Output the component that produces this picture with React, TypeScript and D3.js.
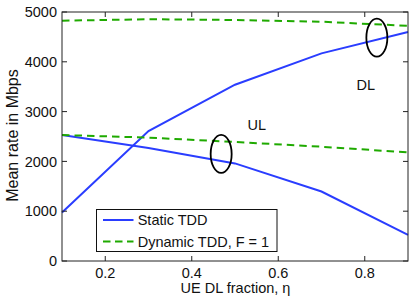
import React from "react";
import * as d3 from "d3";

const eta = [0.1, 0.3, 0.5, 0.7, 0.9];
const staticDL = [975, 2610, 3540, 4170, 4600];
const staticUL = [2530, 2270, 1960, 1395, 525];
const dynamicDL = [4825, 4855, 4840, 4805, 4722];
const dynamicUL = [2530, 2478, 2390, 2295, 2180];
const xTicks = [0.2, 0.4, 0.6, 0.8];
const yTicks = [0, 1000, 2000, 3000, 4000, 5000];
const legendLabels = ["Static TDD", "Dynamic TDD, F = 1"];
const ellipses = [
  { x: 0.468, y: 2150 },
  { x: 0.828, y: 4485 },
];
const labels = [
  { x: 0.529, y: 2630, text: "UL" },
  { x: 0.781, y: 3434, text: "DL" },
];

const W = 415;
const H = 300;
const m = { left: 62, right: 7, top: 12, bottom: 39 };
const BLUE = "#2a3dff";
const GREEN = "#1faa00";
const FONT = "'Liberation Sans', Arial, sans-serif";
const FS = 14.5;

export default function App() {
  const x = d3.scaleLinear().domain([0.1, 0.9]).range([m.left, W - m.right]);
  const y = d3.scaleLinear().domain([0, 5000]).range([H - m.bottom, m.top]);
  const line = d3
    .line<number>()
    .x((_, i) => x(eta[i]))
    .y((d) => y(d));
  const x0 = m.left;
  const x1 = W - m.right;
  const y0 = H - m.bottom;
  const y1 = m.top;
  const tl = 5;
  const lx = 96.5;
  const ly = 209.5;
  return (
    <svg
      width={W}
      height={H}
      style={{ position: "absolute", left: 0, top: 0, background: "#fff" }}
      fontFamily={FONT}
    >
      <rect x={0} y={0} width={W} height={H} fill="#fff" />
      <path d={line(staticDL) || ""} fill="none" stroke={BLUE} strokeWidth={2} />
      <path d={line(staticUL) || ""} fill="none" stroke={BLUE} strokeWidth={2} />
      <path
        d={line(dynamicDL) || ""}
        fill="none"
        stroke={GREEN}
        strokeWidth={2}
        strokeDasharray="7.5,5"
      />
      <path
        d={line(dynamicUL) || ""}
        fill="none"
        stroke={GREEN}
        strokeWidth={2}
        strokeDasharray="7.5,5"
      />
      {ellipses.map((e, i) => (
        <ellipse
          key={i}
          cx={x(e.x)}
          cy={y(e.y)}
          rx={10.5}
          ry={19}
          fill="none"
          stroke="#000"
          strokeWidth={1.8}
        />
      ))}
      {labels.map((l, i) => (
        <text key={i} x={x(l.x)} y={y(l.y)} fontSize={FS} fill="#111">
          {l.text}
        </text>
      ))}
      <rect
        x={x0}
        y={y1}
        width={x1 - x0}
        height={y0 - y1}
        fill="none"
        stroke="#222"
        strokeWidth={1}
      />
      {xTicks.map((t) => (
        <g key={t}>
          <line x1={x(t)} x2={x(t)} y1={y0} y2={y0 - tl} stroke="#222" />
          <line x1={x(t)} x2={x(t)} y1={y1} y2={y1 + tl} stroke="#222" />
          <text x={x(t)} y={277.5} textAnchor="middle" fontSize={FS} fill="#111">
            {t}
          </text>
        </g>
      ))}
      {yTicks.map((t) => (
        <g key={t}>
          <line x1={x0} x2={x0 + tl} y1={y(t)} y2={y(t)} stroke="#222" />
          <line x1={x1} x2={x1 - tl} y1={y(t)} y2={y(t)} stroke="#222" />
          <text x={57} y={y(t) + 5.2} textAnchor="end" fontSize={FS} fill="#111">
            {t}
          </text>
        </g>
      ))}
      <text
        x={235.5}
        y={292.7}
        textAnchor="middle"
        fontSize={FS}
        fill="#111"
      >
        UE DL fraction, η
      </text>
      <text
        transform={`translate(18,135.5) rotate(-90)`}
        textAnchor="middle"
        fontSize={16}
        fill="#111"
      >
        Mean rate in Mbps
      </text>
      <rect
        x={lx}
        y={ly}
        width={180.5}
        height={42}
        fill="#fff"
        stroke="#111"
        strokeWidth={1}
      />
      {legendLabels.map((lab, i) => {
        const yy = ly + 10.5 + i * 21.5;
        return (
          <g key={lab}>
            <line
              x1={lx + 6.5}
              x2={lx + 37}
              y1={yy}
              y2={yy}
              stroke={i === 0 ? BLUE : GREEN}
              strokeWidth={2}
              strokeDasharray={i === 0 ? undefined : "7.5,4.5"}
            />
            <text x={lx + 41.2} y={yy + 5.3} fontSize={FS} fill="#111">
              {lab}
            </text>
          </g>
        );
      })}
    </svg>
  );
}
